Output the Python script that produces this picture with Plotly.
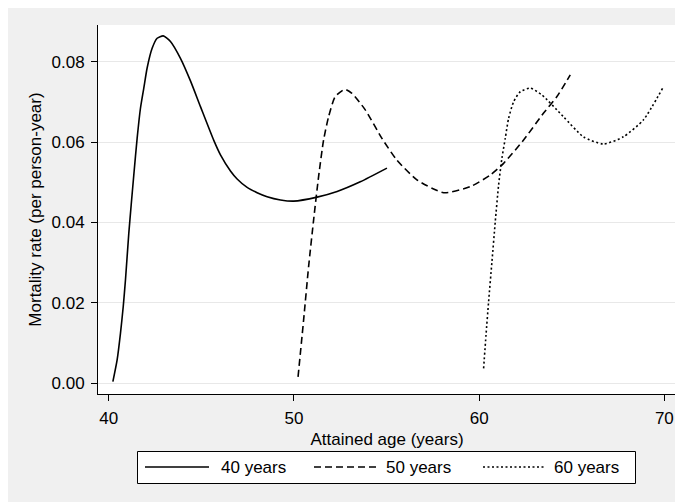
import plotly.graph_objects as go

# ---- data ----
age_40 = [40.22, 40.45, 40.63, 40.78, 40.90, 41.08, 41.21, 41.35, 41.53, 41.71, 41.89, 42.07,
          42.34, 42.61, 42.94, 43.33, 43.87, 44.41, 44.95, 45.67, 46.03, 46.57, 46.93, 47.47,
          48.01, 48.55, 49.27, 49.98, 51.25, 52.33, 53.58, 55.02]
rate_40 = [0.0004, 0.0058, 0.0124, 0.0191, 0.0257, 0.0373, 0.0444, 0.0518, 0.0609, 0.0684,
           0.0734, 0.0784, 0.0833, 0.0858, 0.0864, 0.0850, 0.0808, 0.0752, 0.0688, 0.0604,
           0.0568, 0.0528, 0.0508, 0.0487, 0.0474, 0.0464, 0.0456, 0.0453, 0.0463, 0.0477,
           0.0501, 0.0535]

age_50 = [50.22, 50.52, 50.79, 51.06, 51.33, 51.60, 51.87, 52.23, 52.75, 53.13, 53.85, 54.75,
          55.56, 56.64, 58.08, 59.52, 60.60, 61.32, 62.40, 63.48, 64.20, 64.92]
rate_50 = [0.0016, 0.0157, 0.0290, 0.0406, 0.0514, 0.0605, 0.0663, 0.0713, 0.0731, 0.0721,
           0.0680, 0.0609, 0.0555, 0.0506, 0.0474, 0.0489, 0.0518, 0.0547, 0.0605, 0.0672,
           0.0713, 0.0767]

age_60 = [60.24, 60.37, 60.51, 60.69, 60.87, 61.05, 61.23, 61.41, 61.59, 61.86, 62.22, 62.76,
          63.39, 64.55, 65.63, 66.71, 67.79, 68.87, 69.91]
rate_60 = [0.0037, 0.0120, 0.0203, 0.0302, 0.0402, 0.0493, 0.0560, 0.0609, 0.0659, 0.0700,
           0.0725, 0.0734, 0.0717, 0.0663, 0.0613, 0.0595, 0.0613, 0.0655, 0.0734]

series_names = ["40 years", "50 years", "60 years"]
x_ticks = [40, 50, 60, 70]
y_ticks = [0.00, 0.02, 0.04, 0.06, 0.08]
y_tick_labels = ["0.00", "0.02", "0.04", "0.06", "0.08"]

# ---- layout geometry (pixels; page has an 8px body margin) ----
OX, OY = 8, 8
W, H = 675, 494
L, R, T, B = 90, 7, 17, 108
PW, PH = W - L - R, H - T - B
FONT = "Liberation Sans, Arial, Helvetica, sans-serif"
BG = "#f0f0f0"


def px(xp):  # page x pixel -> paper coordinate
    return (xp - OX - L) / PW


def py(yp):  # page y pixel -> paper coordinate
    return (H - B - (yp - OY)) / PH


dashes = ["solid", "7px,4px", "2px,2.5px"]
data = [(age_40, rate_40), (age_50, rate_50), (age_60, rate_60)]

fig = go.Figure()
for (xs, ys), name, d in zip(data, series_names, dashes):
    fig.add_trace(go.Scatter(x=xs, y=ys, mode="lines", name=name,
                             line=dict(color="black", width=1.6, dash=d,
                                       shape="spline", smoothing=0.6),
                             showlegend=False))

shapes = []
annotations = []

# custom legend
shapes.append(dict(type="rect", xref="paper", yref="paper",
                   x0=px(137.5), x1=px(635.5), y0=py(483.5), y1=py(451.5),
                   fillcolor="white", line=dict(color="black", width=1)))
leg_items = [(145, 209, 219), (314, 378, 384), (483, 546, 552)]
ly = 467
for (a, b, tx), name, d in zip(leg_items, series_names, dashes):
    shapes.append(dict(type="line", xref="paper", yref="paper",
                       x0=px(a), x1=px(b), y0=py(ly), y1=py(ly),
                       line=dict(color="black", width=1.6, dash=d)))
    annotations.append(dict(text=name, xref="paper", yref="paper",
                            x=px(tx), y=py(ly), xanchor="left", yanchor="middle",
                            showarrow=False, font=dict(family=FONT, size=17, color="black")))

fig.update_layout(
    width=W, height=H,
    margin=dict(l=L, r=R, t=T, b=B, pad=0),
    paper_bgcolor=BG, plot_bgcolor="white",
    font=dict(family=FONT, size=17, color="black"),
    shapes=shapes, annotations=annotations,
    showlegend=False,
    xaxis=dict(range=[39.417, 70.63], tickvals=x_ticks, ticks="outside", ticklen=6,
               tickcolor="black", showline=True, linecolor="black", linewidth=1,
               showgrid=False, zeroline=False, tickfont=dict(size=17),
               ticklabelstandoff=3,
               title=dict(text="Attained age (years)", standoff=5, font=dict(size=17))),
    yaxis=dict(range=[-0.00266, 0.0891], tickvals=y_ticks, ticktext=y_tick_labels,
               ticks="outside", ticklen=6, tickcolor="black", showline=True,
               linecolor="black", linewidth=1, showgrid=True, gridcolor="#e8e8e8",
               gridwidth=1, zeroline=False, tickfont=dict(size=17),
               ticklabelstandoff=3,
               title=dict(text="Mortality rate (per person-year)", standoff=5,
                          font=dict(size=17))),
)

fig.write_html("out.html")
